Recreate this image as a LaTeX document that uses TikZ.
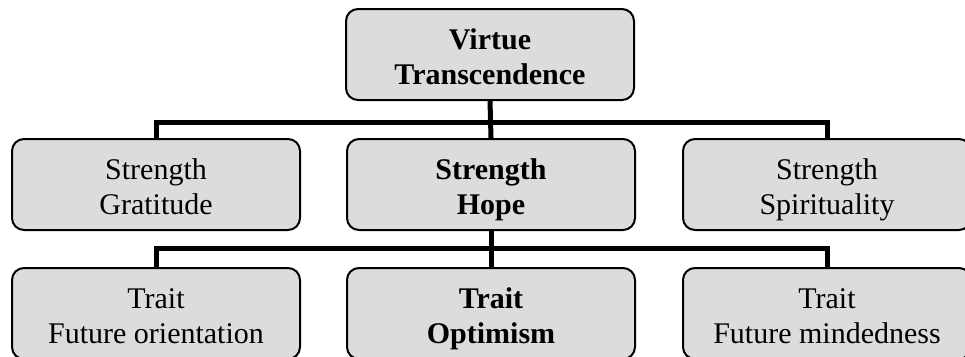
\documentclass[tikz,border=0pt]{standalone}
\usepackage{fontspec}
\setmainfont{Liberation Serif}
\definecolor{boxfill}{RGB}{220,220,220}
\tikzset{
  box/.style={draw=black, line width=2pt, fill=boxfill, rounded corners=12pt,
    minimum width=288pt, minimum height=91pt, inner sep=0pt,
    text height=60pt, text depth=0pt, align=center,
    font=\fontsize{30}{35}\selectfont},
  boldbox/.style={box, font=\fontsize{30}{35}\selectfont\bfseries},
  conn/.style={draw=black, line width=5pt, line join=miter}
}
\begin{document}
\begin{tikzpicture}[x=1pt,y=-1pt]
\useasboundingbox (0,0) rectangle (965,356);
\clip (0,0) rectangle (965,356);
\coordinate (b1) at (490,122);
\coordinate (b2) at (490,248);
\node[boldbox] (top) at (490,54.5) {Virtue\\Transcendence};
\node[box] (sg) at (156,184.5) {Strength\\Gratitude};
\node[boldbox] (sh) at (491,184.5) {Strength\\Hope};
\node[box] (ss) at (827,184.5) {Strength\\Spirituality};
\node[box] (tf) at (156,313.5) {Trait\\Future orientation};
\node[boldbox] (to) at (491,313.5) {Trait\\Optimism};
\node[box] (tm) at (827,313.5) {Trait\\Future mindedness};
\draw[conn] (top.south) -- (sh.north);
\draw[conn] (sg.north) -- (sg.north |- b1) -- (ss.north |- b1) -- (ss.north);
\draw[conn] (sh.south) -- (to.north);
\draw[conn] (tf.north) -- (tf.north |- b2) -- (tm.north |- b2) -- (tm.north);
\end{tikzpicture}
\end{document}
